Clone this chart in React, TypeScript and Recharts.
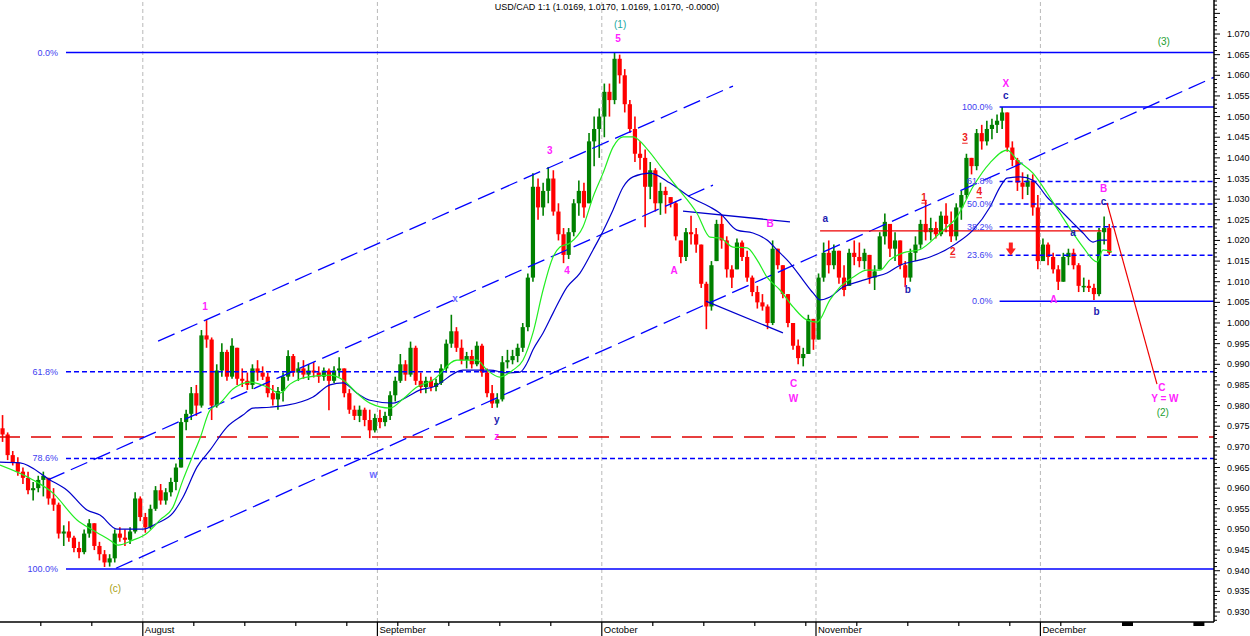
import React from "react";
import { ComposedChart, Bar, Line, XAxis, YAxis, ReferenceLine, ReferenceDot } from "recharts";

// x = trading-day index (0 = 12 Jul 2011, 14 = 1 Aug, 37 = 1 Sep, 59 = 3 Oct, 80 = 1 Nov, 102 = 1 Dec)
const XMAX = 119.02;
const YMIN = 0.92758;
const YMAX = 1.07824;

const monthStarts = [14, 37, 59, 80, 102];
const monthLabels = ["August", "September", "October", "November", "December"];
const weekTicks = [4, 9, 14, 19, 24, 29, 34, 39, 44, 49, 54, 59, 64, 69, 74, 79, 84, 89, 94, 99, 104];
const axisBlobs = [110, 117];
const priceLabels = [0.93, 0.935, 0.94, 0.945, 0.95, 0.955, 0.96, 0.965, 0.97, 0.975, 0.98, 0.985, 0.99, 0.995, 1.0, 1.005, 1.01, 1.015, 1.02, 1.025, 1.03, 1.035, 1.04, 1.045, 1.05, 1.055, 1.06, 1.065, 1.07];

const title = "USD/CAD 1:1 (1.0169, 1.0170, 1.0169, 1.0170, -0.0000)";

// half-day bars: [high, low, close]
const firstOpen = 0.9745;
const julBars = [
  [0.9777, 0.9712, 0.973], [0.9735, 0.9668, 0.968],
  [0.969, 0.9655, 0.9662], [0.9675, 0.963, 0.964],
  [0.965, 0.961, 0.9625], [0.964, 0.9585, 0.9595],
  [0.9615, 0.957, 0.96], [0.963, 0.959, 0.962],
  [0.964, 0.958, 0.963], [0.9625, 0.956, 0.9575],
  [0.96, 0.9545, 0.956], [0.9565, 0.9478, 0.949],
  [0.951, 0.946, 0.9495], [0.952, 0.947, 0.948],
  [0.9485, 0.9445, 0.9455], [0.947, 0.943, 0.9445],
  [0.95, 0.944, 0.949], [0.9525, 0.948, 0.9515],
  [0.9515, 0.945, 0.946], [0.947, 0.9425, 0.944],
  [0.945, 0.9409, 0.942], [0.944, 0.941, 0.943],
  [0.95, 0.942, 0.949], [0.9505, 0.947, 0.948],
  [0.95, 0.946, 0.9475], [0.9505, 0.9465, 0.9495],
  [0.959, 0.949, 0.9575], [0.958, 0.952, 0.953],
];
const augBars = [
  [0.954, 0.9492, 0.9505], [0.956, 0.95, 0.955],
  [0.9605, 0.9545, 0.9595], [0.961, 0.956, 0.957],
  [0.96, 0.956, 0.959], [0.9625, 0.958, 0.9615],
  [0.966, 0.9595, 0.965], [0.977, 0.965, 0.976],
  [0.979, 0.974, 0.978], [0.9845, 0.9765, 0.983],
  [0.985, 0.9775, 0.98], [0.9983, 0.9795, 0.997],
  [1.0007, 0.994, 0.996], [0.9965, 0.9765, 0.98],
  [0.99, 0.9795, 0.9885], [0.9951, 0.987, 0.993],
  [0.9935, 0.986, 0.987], [0.9963, 0.9865, 0.9945],
  [0.994, 0.985, 0.9865], [0.989, 0.9845, 0.986],
  [0.988, 0.9838, 0.985], [0.99, 0.984, 0.989],
  [0.991, 0.986, 0.988], [0.9895, 0.9862, 0.987],
  [0.988, 0.982, 0.983], [0.985, 0.98, 0.9815],
  [0.9845, 0.979, 0.9835], [0.988, 0.981, 0.987],
  [0.9934, 0.986, 0.992], [0.9925, 0.987, 0.988],
  [0.9905, 0.986, 0.989], [0.991, 0.9865, 0.9875],
  [0.99, 0.9862, 0.9885], [0.9905, 0.9868, 0.988],
  [0.9895, 0.9855, 0.987], [0.9892, 0.986, 0.9885],
  [0.989, 0.9789, 0.986], [0.9895, 0.9855, 0.9885],
  [0.9917, 0.987, 0.989], [0.989, 0.982, 0.983],
  [0.984, 0.978, 0.979], [0.98, 0.9765, 0.9775],
  [0.98, 0.976, 0.979], [0.9795, 0.975, 0.9765],
  [0.979, 0.9721, 0.974], [0.978, 0.9735, 0.977],
];
const sepBars = [
  [0.979, 0.9745, 0.976], [0.9785, 0.975, 0.9775],
  [0.9835, 0.9765, 0.9825], [0.987, 0.981, 0.986],
  [0.9925, 0.9855, 0.99], [0.991, 0.986, 0.9875],
  [0.9955, 0.987, 0.994], [0.9945, 0.985, 0.986],
  [0.988, 0.983, 0.9845], [0.987, 0.983, 0.986],
  [0.987, 0.9835, 0.9845], [0.9865, 0.9835, 0.9855],
  [0.99, 0.985, 0.989], [0.996, 0.988, 0.995],
  [1.002, 0.994, 0.998], [0.999, 0.993, 0.994],
  [0.996, 0.99, 0.991], [0.993, 0.989, 0.992],
  [0.9935, 0.989, 0.99], [0.9955, 0.9895, 0.9945],
  [0.995, 0.987, 0.988], [0.989, 0.982, 0.983],
  [0.985, 0.9794, 0.9805], [0.983, 0.9795, 0.9815],
  [0.992, 0.981, 0.9905], [0.9935, 0.989, 0.991],
  [0.9935, 0.99, 0.992], [0.995, 0.9905, 0.994],
  [1.0, 0.993, 0.999], [1.012, 0.998, 1.011],
  [1.0363, 1.01, 1.033], [1.035, 1.025, 1.028],
  [1.034, 1.026, 1.032], [1.0378, 1.029, 1.035],
  [1.037, 1.026, 1.027], [1.029, 1.02, 1.0215],
  [1.023, 1.0145, 1.0165], [1.023, 1.0155, 1.022],
  [1.03, 1.021, 1.029], [1.0345, 1.026, 1.032],
  [1.034, 1.0255, 1.028], [1.046, 1.029, 1.044],
  [1.05, 1.038, 1.047], [1.052, 1.04, 1.05],
];
const octBars = [
  [1.058, 1.045, 1.056], [1.058, 1.05, 1.054],
  [1.0654, 1.053, 1.064], [1.065, 1.058, 1.06],
  [1.0615, 1.051, 1.053], [1.054, 1.046, 1.047],
  [1.05, 1.039, 1.041], [1.044, 1.0371, 1.04],
  [1.042, 1.0232, 1.033], [1.039, 1.03, 1.037],
  [1.0375, 1.027, 1.029], [1.034, 1.0262, 1.032],
  [1.033, 1.0265, 1.031], [1.0305, 1.028, 1.029],
  [1.0295, 1.02, 1.021], [1.02, 1.0145, 1.016],
  [1.023, 1.015, 1.022], [1.026, 1.019, 1.0215],
  [1.023, 1.017, 1.019], [1.019, 1.0085, 1.0095],
  [1.01, 0.9985, 1.004], [1.015, 1.003, 1.014],
  [1.025, 1.015, 1.024], [1.0262, 1.018, 1.02],
  [1.021, 1.011, 1.013], [1.014, 1.0085, 1.011],
  [1.0205, 1.013, 1.0195], [1.02, 1.015, 1.016],
  [1.0175, 1.01, 1.011], [1.0115, 1.0065, 1.0075],
  [1.009, 1.0035, 1.005], [1.007, 1.003, 1.004],
  [1.0045, 0.9985, 1.0], [1.02, 0.9995, 1.018],
  [1.018, 1.013, 1.014], [1.014, 1.006, 1.007],
  [1.007, 0.999, 1.0], [1.0, 0.9935, 0.9945],
  [0.996, 0.99, 0.9915], [0.994, 0.9895, 0.9925],
  [1.002, 0.9925, 1.001], [1.001, 0.9935, 0.996],
];
const novBars = [
  [1.012, 0.996, 1.011], [1.0195, 1.01, 1.017],
  [1.02, 1.012, 1.014], [1.019, 1.013, 1.0175],
  [1.0175, 1.0095, 1.011], [1.014, 1.0065, 1.008],
  [1.018, 1.009, 1.017], [1.02, 1.014, 1.016],
  [1.0195, 1.0135, 1.015], [1.018, 1.013, 1.017],
  [1.0165, 1.0095, 1.011], [1.014, 1.008, 1.0125],
  [1.022, 1.013, 1.021], [1.0265, 1.019, 1.0245],
  [1.024, 1.016, 1.018], [1.022, 1.015, 1.02],
  [1.02, 1.013, 1.014], [1.015, 1.0087, 1.011],
  [1.018, 1.01, 1.017], [1.021, 1.015, 1.019],
  [1.025, 1.018, 1.024], [1.0298, 1.02, 1.022],
  [1.0255, 1.02, 1.023], [1.0245, 1.0205, 1.0215],
  [1.027, 1.021, 1.026], [1.029, 1.022, 1.024],
  [1.027, 1.0196, 1.021], [1.029, 1.02, 1.028],
  [1.032, 1.025, 1.031], [1.041, 1.03, 1.04],
  [1.04, 1.036, 1.038], [1.047, 1.037, 1.046],
  [1.048, 1.042, 1.044], [1.049, 1.043, 1.047],
  [1.0495, 1.0445, 1.048], [1.0505, 1.046, 1.049],
  [1.0523, 1.047, 1.051], [1.051, 1.0415, 1.0425],
  [1.044, 1.038, 1.0395], [1.04, 1.032, 1.034],
  [1.0365, 1.03, 1.033], [1.036, 1.031, 1.0345],
  [1.036, 1.026, 1.028], [1.031, 1.013, 1.015],
];
const decBars = [
  [1.0205, 1.015, 1.019], [1.0195, 1.014, 1.016],
  [1.017, 1.012, 1.013], [1.014, 1.008, 1.01],
  [1.017, 1.01, 1.016], [1.018, 1.014, 1.017],
  [1.018, 1.013, 1.014], [1.0145, 1.0075, 1.009],
  [1.011, 1.0075, 1.009], [1.0105, 1.0075, 1.0085],
  [1.0095, 1.0056, 1.007], [1.023, 1.0065, 1.022],
  [1.0258, 1.019, 1.023], [1.024, 1.0165, 1.017],
];

// moving averages: [day index, price]
const greenMA = [
  [0, 0.9656], [3.24, 0.962], [5.2, 0.9588], [7.55, 0.9523], [9.12, 0.9498], [10.78, 0.9474], [11.57, 0.9462],
  [13.04, 0.9474], [14.41, 0.9491], [15.69, 0.9523], [16.96, 0.9554], [17.94, 0.962], [18.92, 0.968], [19.61, 0.9721],
  [20.59, 0.9789], [21.57, 0.9806], [22.84, 0.984], [24.51, 0.9857], [26.18, 0.9845], [27.45, 0.983], [28.43, 0.9852],
  [30.1, 0.9869], [32.35, 0.9874], [33.63, 0.9862], [35.0, 0.983], [36.27, 0.9806], [38.24, 0.9794], [39.51, 0.9816],
  [40.88, 0.9845], [42.45, 0.9862], [44.8, 0.991], [46.76, 0.991], [47.75, 0.9886], [49.02, 0.9869], [50.29, 0.9886],
  [51.27, 0.991], [52.25, 0.9976], [53.24, 1.008], [54.22, 1.016], [54.9, 1.0184], [55.88, 1.0194], [57.16, 1.0233],
  [58.14, 1.0305], [59.12, 1.0363], [60.1, 1.0426], [61.08, 1.0451], [62.06, 1.0451], [63.53, 1.0419], [64.9, 1.0375],
  [66.37, 1.0329], [68.33, 1.0266], [69.61, 1.0208], [70.59, 1.0206], [71.86, 1.0184], [73.24, 1.0182], [74.22, 1.0153],
  [75.2, 1.0111], [76.47, 1.008], [77.75, 1.0039], [79.12, 1.0007], [80.1, 1.0002], [81.37, 1.0056], [82.35, 1.0087],
  [83.63, 1.0111], [85.0, 1.0128], [86.27, 1.0128], [87.25, 1.0153], [88.53, 1.017], [90.2, 1.0178], [92.16, 1.0218],
  [93.82, 1.0257], [95.39, 1.033], [97.06, 1.0388], [98.73, 1.0419], [99.71, 1.0395], [101.27, 1.0363], [102.65, 1.0315],
  [103.92, 1.0266], [105.2, 1.0218], [106.18, 1.0184], [107.55, 1.0148], [108.14, 1.0177], [109.02, 1.0172],
];
const blueMA = [
  [0, 0.9663], [1.96, 0.9661], [4.9, 0.962], [6.57, 0.9595], [8.53, 0.9547], [9.8, 0.9535], [11.47, 0.9501],
  [14.02, 0.9501], [15.39, 0.9515], [16.96, 0.954], [17.94, 0.9578], [19.31, 0.9651], [20.59, 0.9692], [22.25, 0.9748],
  [23.82, 0.9777], [24.8, 0.9794], [26.47, 0.9796], [28.14, 0.9801], [30.69, 0.9821], [32.35, 0.985], [33.63, 0.9855],
  [35.0, 0.983], [36.27, 0.9813], [38.53, 0.9806], [39.9, 0.9821], [41.18, 0.9838], [42.45, 0.9845], [45.39, 0.9886],
  [48.04, 0.9886], [49.71, 0.9879], [50.98, 0.9881], [51.67, 0.9903], [52.25, 0.9935], [53.24, 0.9976], [54.22, 1.0024],
  [55.59, 1.0087], [56.86, 1.0121], [58.14, 1.0177], [58.82, 1.0208], [60.1, 1.0274], [61.08, 1.0329], [62.06, 1.0354],
  [63.73, 1.0363], [65.69, 1.0339], [67.65, 1.0305], [69.61, 1.0281], [70.59, 1.0266], [72.25, 1.0225], [73.82, 1.0218],
  [75.2, 1.0201], [76.18, 1.0177], [77.45, 1.0145], [78.73, 1.0104], [79.71, 1.0073], [80.39, 1.0056], [81.37, 1.0063],
  [82.65, 1.0087], [84.02, 1.0099], [85.59, 1.0111], [86.96, 1.0121], [88.24, 1.014], [90.2, 1.0153], [91.18, 1.016],
  [93.82, 1.0194], [95.39, 1.0225], [97.06, 1.0281], [98.04, 1.0329], [98.73, 1.0351], [100.0, 1.0354], [101.27, 1.0346],
  [102.65, 1.0305], [103.92, 1.0274], [105.2, 1.0242], [106.18, 1.0218], [107.16, 1.0196], [107.84, 1.0201], [108.53, 1.0201],
];

// Fibonacci levels
const fibLeftStart = 6.47;
const fibLeftLabelX = 5.69;
const fibLeftLevels = [1.0655, 0.9882, 0.9672, 0.9404];
const fibLeftLabels = ["0.0%", "61.8%", "78.6%", "100.0%"];
const fibLeftSolid = [true, false, false, true];
const fibRightStart = 98.0;
const fibRightLabelX = 97.3;
const fibRightLevels = [1.0523, 1.0343, 1.0288, 1.0233, 1.0164, 1.0053];
const fibRightLabels = ["100.0%", "61.8%", "50.0%", "38.2%", "23.6%", "0.0%"];
const fibRightSolid = [true, false, false, false, false, true];

// trend channel (dashed) and wedge lines (solid), [x, price] pairs
const channelLines = [
  [[11.37, 0.9406], [119.0, 1.0595]],
  [[4.7, 0.962], [69.9, 1.0334]],
  [[15.5, 0.9956], [71.86, 1.0574]],
];
const wedgeLines = [
  [[66.96, 1.0271], [77.45, 1.0245]],
  [[69.2, 1.0053], [76.76, 0.9976]],
];
const redDashedLevel = 0.9724;
const redLevelLine = [[80.4, 1.0223], [108.0, 1.0223]];
const projectionLine = [[108.53, 1.0291], [113.43, 0.9852]];
const arrowPoint = [99.1, 1.0178];

// wave labels [x, price, text]
const magentaLabels = [
  [60.6, 1.069, "5"], [20.1, 1.0041, "1"], [53.9, 1.0417, "3"], [55.6, 1.0126, "4"], [48.7, 0.9726, "z"],
  [66.1, 1.0128, "A"], [75.5, 1.024, "B"], [77.8, 0.98545, "C"], [77.8, 0.9818, "W"], [98.6, 1.0579, "X"],
  [103.3, 1.0056, "A"], [108.2, 1.0325, "B"], [113.9, 0.9844, "C"], [114.2, 0.9816, "Y = W"],
];
const blueLabels = [
  [48.7, 0.9767, "y"], [80.9, 1.0254, "a"], [89.0, 1.008, "b"], [98.6, 1.0552, "c"],
  [105.2, 1.022, "a"], [107.5, 1.0027, "b"], [108.2, 1.0295, "c"],
];
const lightBlueLabels = [[44.6, 1.006, "x"], [36.6, 0.9634, "w"]];
const redLabels = [[90.6, 1.0305, "1"], [93.4, 1.0174, "2"], [94.6, 1.045, "3"], [96.0, 1.0318, "4"]];
const tealLabels = [[60.8, 1.0724, "(1)"]];
const greenLabels = [[114.1, 1.0681, "(3)"], [114.0, 0.9784, "(2)"]];
const oliveLabels = [[11.3, 0.9358, "(c)"]];

const FONT = "'Liberation Sans', Arial, sans-serif";

const allBars = [...julBars, ...augBars, ...sepBars, ...octBars, ...novBars, ...decBars];
const barTable = allBars.map((b, i) => ({
  x: i * 0.5 + 0.25,
  h: b[0],
  l: b[1],
  c: b[2],
  o: i === 0 ? firstOpen : allBars[i - 1][2],
}));
const greenTable = greenMA.map(([x, v]) => ({ x, v }));
const blueTable = blueMA.map(([x, v]) => ({ x, v }));

const xTicks = Array.from(new Set([...weekTicks, ...monthStarts, ...axisBlobs])).sort((a, b) => a - b);
const yTicks: number[] = [];
for (let i = 928; i <= 1078; i++) yTicks.push(i / 1000);

function CandleShape(props: any) {
  const { x, y, width, height, payload } = props;
  if (x == null || y == null || !payload) return null;
  const cx = x + width / 2;
  const top = Math.min(y, y + height);
  const bot = Math.max(y, y + height);
  const { h, l, o, c } = payload;
  const k = h > l ? (bot - top) / (h - l) : 0;
  const oc = Math.min(Math.max(o, l), h);
  const yo = top + (h - oc) * k;
  const yc = top + (h - c) * k;
  const col = c >= o ? "#008000" : "#ff0000";
  const bt = Math.min(yo, yc);
  const bb = Math.max(yo, yc);
  return (
    <g>
      <line x1={cx} x2={cx} y1={top} y2={bot} stroke={col} strokeWidth={1.6} />
      <rect x={cx - 2.1} y={bt} width={4.2} height={Math.max(bb - bt, 1.5)} fill={col} />
    </g>
  );
}

function XTick(props: any) {
  const { x, y, payload } = props;
  const v = payload.value;
  const mi = monthStarts.indexOf(v);
  if (mi >= 0) {
    return (
      <g>
        <line x1={x} x2={x} y1={y} y2={y + 14} stroke="#000" strokeWidth={1.2} />
        <text x={x + 2} y={y + 11} fontSize={9.5} fontFamily={FONT} fill="#000">
          {monthLabels[mi]}
        </text>
      </g>
    );
  }
  if (axisBlobs.includes(v)) {
    return <rect x={x} y={y} width={11} height={4} fill="#000" />;
  }
  return <line x1={x} x2={x} y1={y} y2={y + 4} stroke="#000" strokeWidth={1.2} />;
}

function YTick(props: any) {
  const { x, y, payload } = props;
  const v = payload.value;
  const major = Math.round(v * 1000) % 5 === 0;
  const show = major && priceLabels.some((p) => Math.abs(p - v) < 1e-6);
  return (
    <g>
      <line x1={x} x2={x + (major ? 6 : 3)} y1={y} y2={y} stroke="#000" strokeWidth={1} />
      {show && (
        <text x={x + 13} y={y} dominantBaseline="central" fontSize={9} fontFamily={FONT} fill="#000">
          {v.toFixed(3)}
        </text>
      )}
    </g>
  );
}

function textLabels(list: any[], color: string, opts: { size?: number; bold?: boolean; underline?: boolean; anchor?: string } = {}, keyPrefix = "") {
  return list.map((a, i) => (
    <ReferenceDot
      key={keyPrefix + i}
      x={a[0]}
      y={a[1]}
      r={1}
      ifOverflow="visible"
      shape={(p: any) => (
        <text
          x={p.cx}
          y={p.cy}
          textAnchor={opts.anchor || "middle"}
          dominantBaseline="central"
          fontSize={opts.size || 10}
          fontWeight={opts.bold ? "bold" : "normal"}
          fontFamily={FONT}
          fill={color}
          textDecoration={opts.underline ? "underline" : undefined}
        >
          {a[2]}
        </text>
      )}
    />
  ));
}

export default function App() {
  return (
    <div style={{ position: "absolute", left: 0, top: 0, width: 1250, height: 636, background: "#fff" }}>
      <div
        style={{
          position: "absolute",
          left: 0,
          top: 1,
          width: 1214,
          textAlign: "center",
          fontFamily: FONT,
          fontSize: 9,
          lineHeight: "12px",
          color: "#000",
          zIndex: 2,
        }}
      >
        {title}
      </div>
      <ComposedChart width={1250} height={636} data={barTable} margin={{ top: 0, right: 0, bottom: 0, left: 0 }}>
        <XAxis
          type="number"
          dataKey="x"
          domain={[0, XMAX]}
          ticks={xTicks}
          interval={0}
          tick={<XTick />}
          tickLine={false}
          tickSize={0}
          tickMargin={0}
          axisLine={{ stroke: "#000", strokeWidth: 1.5 }}
          height={14}
          allowDataOverflow
        />
        <YAxis
          type="number"
          orientation="right"
          domain={[YMIN, YMAX]}
          ticks={yTicks}
          interval={0}
          tick={<YTick />}
          tickLine={false}
          tickSize={0}
          tickMargin={0}
          axisLine={{ stroke: "#000", strokeWidth: 1.5 }}
          width={36}
          allowDataOverflow
        />
        {monthStarts.map((m) => (
          <ReferenceLine key={"m" + m} x={m} stroke="#b8b8b8" strokeDasharray="4 3" />
        ))}
        <Bar dataKey={(d: any) => [d.l, d.h]} barSize={4} isAnimationActive={false} shape={<CandleShape />} />
        <ReferenceLine
          segment={[{ x: 0, y: redDashedLevel }, { x: XMAX, y: redDashedLevel }]}
          stroke="#e00000"
          strokeWidth={1.5}
          strokeDasharray="20 11"
        />
        {fibLeftLevels.map((lv, i) => (
          <ReferenceLine
            key={"fl" + i}
            segment={[{ x: fibLeftStart, y: lv }, { x: XMAX, y: lv }]}
            stroke="#0000ff"
            strokeWidth={1.5}
            strokeDasharray={fibLeftSolid[i] ? undefined : "5 3"}
          />
        ))}
        {fibRightLevels.map((lv, i) => (
          <ReferenceLine
            key={"fr" + i}
            segment={[{ x: fibRightStart, y: lv }, { x: XMAX, y: lv }]}
            stroke="#0000ff"
            strokeWidth={1.5}
            strokeDasharray={fibRightSolid[i] ? undefined : "5 3"}
          />
        ))}
        {channelLines.map((s, i) => (
          <ReferenceLine
            key={"ch" + i}
            segment={[{ x: s[0][0], y: s[0][1] }, { x: s[1][0], y: s[1][1] }]}
            stroke="#0000ff"
            strokeWidth={1.3}
            strokeDasharray="18 7"
          />
        ))}
        {wedgeLines.map((s, i) => (
          <ReferenceLine
            key={"wd" + i}
            segment={[{ x: s[0][0], y: s[0][1] }, { x: s[1][0], y: s[1][1] }]}
            stroke="#0000cc"
            strokeWidth={1.3}
          />
        ))}
        <ReferenceLine
          segment={[{ x: redLevelLine[0][0], y: redLevelLine[0][1] }, { x: redLevelLine[1][0], y: redLevelLine[1][1] }]}
          stroke="#ee0000"
          strokeWidth={1.3}
        />
        <ReferenceLine
          segment={[{ x: projectionLine[0][0], y: projectionLine[0][1] }, { x: projectionLine[1][0], y: projectionLine[1][1] }]}
          stroke="#ee0000"
          strokeWidth={1.2}
        />
        <Line data={blueTable} dataKey="v" type="monotone" stroke="#0000cc" strokeWidth={1.2} dot={false} isAnimationActive={false} />
        <Line data={greenTable} dataKey="v" type="monotone" stroke="#22ee22" strokeWidth={1.2} dot={false} isAnimationActive={false} />
        {textLabels(fibLeftLevels.map((lv, i) => [fibLeftLabelX, lv, fibLeftLabels[i]]), "#4040f0", { size: 9, anchor: "end" }, "lfl")}
        {textLabels(fibRightLevels.map((lv, i) => [fibRightLabelX, lv, fibRightLabels[i]]), "#4040f0", { size: 9, anchor: "end" }, "lfr")}
        {textLabels(magentaLabels, "#ff22ff", { size: 10, bold: true }, "mg")}
        {textLabels(blueLabels, "#2020b0", { size: 10, bold: true }, "bl")}
        {textLabels(lightBlueLabels, "#6a6aff", { size: 10, bold: true }, "lb")}
        {textLabels(redLabels, "#ee2020", { size: 10, bold: true, underline: true }, "rd")}
        {textLabels(tealLabels, "#20a8a0", { size: 10 }, "tl")}
        {textLabels(greenLabels, "#22a030", { size: 10 }, "gr")}
        {textLabels(oliveLabels, "#a8a010", { size: 10 }, "ol")}
        <ReferenceDot
          x={arrowPoint[0]}
          y={arrowPoint[1]}
          r={1}
          ifOverflow="visible"
          shape={(p: any) => (
            <g fill="#ff2020">
              <rect x={p.cx - 2} y={p.cy - 7} width={4} height={7} />
              <polygon points={`${p.cx - 5},${p.cy - 1} ${p.cx + 5},${p.cy - 1} ${p.cx},${p.cy + 6}`} />
            </g>
          )}
        />
      </ComposedChart>
    </div>
  );
}
